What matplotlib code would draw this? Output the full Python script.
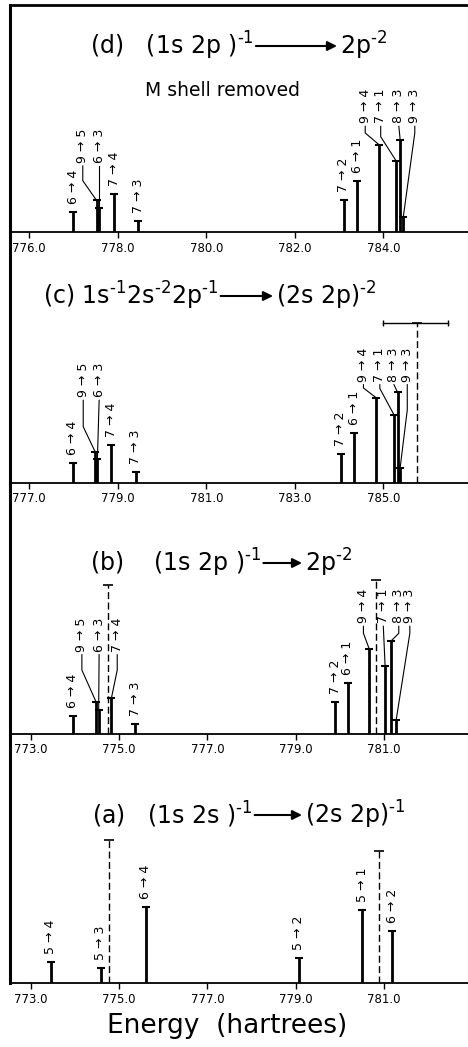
import matplotlib.pyplot as plt

# ---- data (energies in hartrees, intensities in arbitrary units) ----
# panel (a)  (1s 2s)^-1 -> (2s 2p)^-1
a_energy = [773.46, 774.59, 775.60, 779.07, 780.50, 781.18]
a_inten = [21.3, 15.3, 76.7, 25.0, 73.3, 52.7]
a_labels = ['5 → 4', '5 → 3', '6 → 4', '5 → 2', '5 → 1', '6 → 2']
a_expt = [774.77, 780.88]
a_expt_h = [143.0, 132.3]

# panel (b)  (1s 2p)^-1 -> 2p^-2
b_energy = [773.95, 774.48, 774.54, 774.83, 775.37,
            779.89, 780.17, 780.66, 781.02, 781.15, 781.27]
b_inten = [17.7, 31.7, 23.3, 35.7, 10.0, 31.3, 50.7, 84.7, 68.0, 92.3, 13.3]
b_labels = ['6 → 4', '9 → 5', '6 → 3', '7 → 4', '7 → 3',
            '7 → 2', '6 → 1', '9 → 4', '7 → 1', '8 → 3', '9 → 3']
b_expt = [774.74, 780.81]
b_expt_h = [148.3, 154.0]

# panel (c)  1s^-1 2s^-2 2p^-1 -> (2s 2p)^-2
c_energy = [777.98, 778.49, 778.54, 778.85, 779.41,
            784.04, 784.34, 784.83, 785.24, 785.32, 785.38]
c_inten = [19.7, 30.7, 23.3, 37.3, 10.7, 28.7, 49.3, 85.0, 67.7, 90.3, 15.0]
c_labels = b_labels
c_expt = [785.75]
c_expt_h = [159.3]
c_expt_range = [785.0, 786.45]

# panel (d)  (1s 2p)^-1 -> 2p^-2, M shell removed
d_energy = [776.99, 777.52, 777.58, 777.92, 778.46,
            783.11, 783.41, 783.91, 784.29, 784.38, 784.45]
d_inten = [20.0, 31.7, 24.0, 37.7, 10.7, 31.7, 51.0, 87.0, 71.0, 92.0, 15.0]
d_labels = b_labels

# ---- label layout for crowded groups: label -> (label x, label bottom, knee y) ----
a_lead = {}
b_lead = {'9 → 5': (774.16, 81.8, 63.5), '6 → 3': (774.55, 81.8, None),
          '7 → 4': (774.96, 81.8, 63.5), '9 → 4': (780.53, 110.2, 100.2),
          '7 → 1': (780.98, 110.2, None), '8 → 3': (781.33, 110.2, 100.2),
          '9 → 3': (781.58, 110.2, 100.2)}
c_lead = {'9 → 5': (778.22, 85.2, 55.8), '6 → 3': (778.58, 85.2, None),
          '9 → 4': (784.55, 100.8, 94.5), '7 → 1': (784.92, 100.8, 94.0),
          '8 → 3': (785.24, 100.8, None), '9 → 3': (785.54, 100.8, 72.5)}
d_lead = {'9 → 5': (777.21, 69.0, 51.3), '6 → 3': (777.58, 69.0, None),
          '9 → 4': (783.59, 108.7, 99.0), '7 → 1': (783.94, 108.7, 95.3),
          '8 → 3': (784.35, 108.7, None), '9 → 3': (784.71, 108.7, 99.0)}

W, H = 468, 1047
plt.rcParams['font.family'] = 'DejaVu Sans'
fig = plt.figure(figsize=(W / 100, H / 100), dpi=100)
renderer = fig.canvas.get_renderer()


def make_ax(top_px, bottom_px, xlim, ticks, top_spine=False):
    ax = fig.add_axes([10 / W, 1 - bottom_px / H, 1 - 10 / W, (bottom_px - top_px) / H])
    ax.set_facecolor('none')
    ax.set_xlim(xlim)
    ax.set_ylim(0, bottom_px - top_px)
    ax.spines['right'].set_visible(False)
    ax.spines['top'].set_visible(top_spine)
    ax.spines['top'].set_linewidth(2.0)
    ax.spines['left'].set_linewidth(2.2)
    ax.spines['bottom'].set_linewidth(1.3)
    ax.set_yticks([])
    ax.set_xticks(ticks, [f'{t:.1f}' for t in ticks])
    ax.tick_params(axis='x', direction='out', length=4, width=1, labelsize=8.5, pad=3)
    return ax


def draw_lines(ax, energy, inten, labels, leaders):
    ax.vlines(energy, 0, inten, color='k', lw=2.0)
    ax.plot(energy, inten, ls='none', marker='_', ms=6, mew=1.5, color='k')
    for e, h, lab in zip(energy, inten, labels):
        if lab in leaders:
            lx, ly, knee = leaders[lab]
            if knee is None:
                ax.plot([lx, e], [ly - 3, h], color='k', lw=0.8)
            else:
                ax.plot([lx, lx, e], [ly - 3, knee, h], color='k', lw=0.8)
        else:
            lx, ly = e, h + 8
        ax.text(lx, ly, lab, rotation=90, ha='center', va='bottom', fontsize=9)


def draw_expt(ax, energy, height):
    ax.vlines(energy, 0, height, color='k', lw=1.0, linestyles=(0, (5, 2.5)))
    ax.plot(energy, height, ls='none', marker='_', ms=7, mew=1.2, color='k')


def sup(n):
    return r'$^{\text{-}%s}$' % n


def title(ax, left, right, x_left, x_arrow_end, base_y, fs=17):
    # pixel positions measured from the top-left of the picture
    y = 1 - base_y / H
    t = fig.text(x_left / W, y, left, fontsize=fs, va='baseline')
    x0 = t.get_window_extent(renderer).x1 + 2
    ya = H - base_y + 9
    ax.annotate('', xy=(x_arrow_end, ya), xytext=(x0, ya),
                xycoords='figure pixels', textcoords='figure pixels',
                arrowprops=dict(arrowstyle='-|>', lw=1.5, color='k',
                                mutation_scale=14, shrinkA=0, shrinkB=0))
    fig.text((x_arrow_end + 3) / W, y, right, fontsize=fs, va='baseline')


# (d)
axd = make_ax(5, 232, (775.566, 785.912), [776.0, 778.0, 780.0, 782.0, 784.0], top_spine=True)
draw_lines(axd, d_energy, d_inten, d_labels, d_lead)
title(axd, '(d)   (1s 2p )' + sup(1), '2p' + sup(2), 90, 337, 55)
axd.text(0.295, 0.600, 'M shell removed', transform=axd.transAxes, fontsize=13.5, va='baseline')

# (c)
axc = make_ax(232, 482.5, (776.566, 786.912), [777.0, 779.0, 781.0, 783.0, 785.0])
draw_lines(axc, c_energy, c_inten, c_labels, c_lead)
draw_expt(axc, c_expt, c_expt_h)
axc.plot(c_expt_range, [c_expt_h[0]] * 2, color='k', lw=1.0, marker='|', ms=5, mew=1.0)
title(axc, '(c) 1s' + sup(1) + '2s' + sup(2) + '2p' + sup(1), '(2s 2p)' + sup(2), 43, 273, 305)

# (b)
axb = make_ax(482.5, 733.5, (772.534, 782.896), [773.0, 775.0, 777.0, 779.0, 781.0])
draw_lines(axb, b_energy, b_inten, b_labels, b_lead)
draw_expt(axb, b_expt, b_expt_h)
title(axb, '(b)    (1s 2p )' + sup(1), '2p' + sup(2), 90, 302, 572)

# (a)
axa = make_ax(733.5, 983.3, (772.534, 782.896), [773.0, 775.0, 777.0, 779.0, 781.0])
draw_lines(axa, a_energy, a_inten, a_labels, a_lead)
draw_expt(axa, a_expt, a_expt_h)
title(axa, '(a)   (1s 2s )' + sup(1), '(2s 2p)' + sup(1), 92, 302, 824)

fig.text(227 / W, 1 - 1033 / H, 'Energy  (hartrees)', ha='center', va='baseline', fontsize=19)

fig.savefig('out.png', dpi=100)
